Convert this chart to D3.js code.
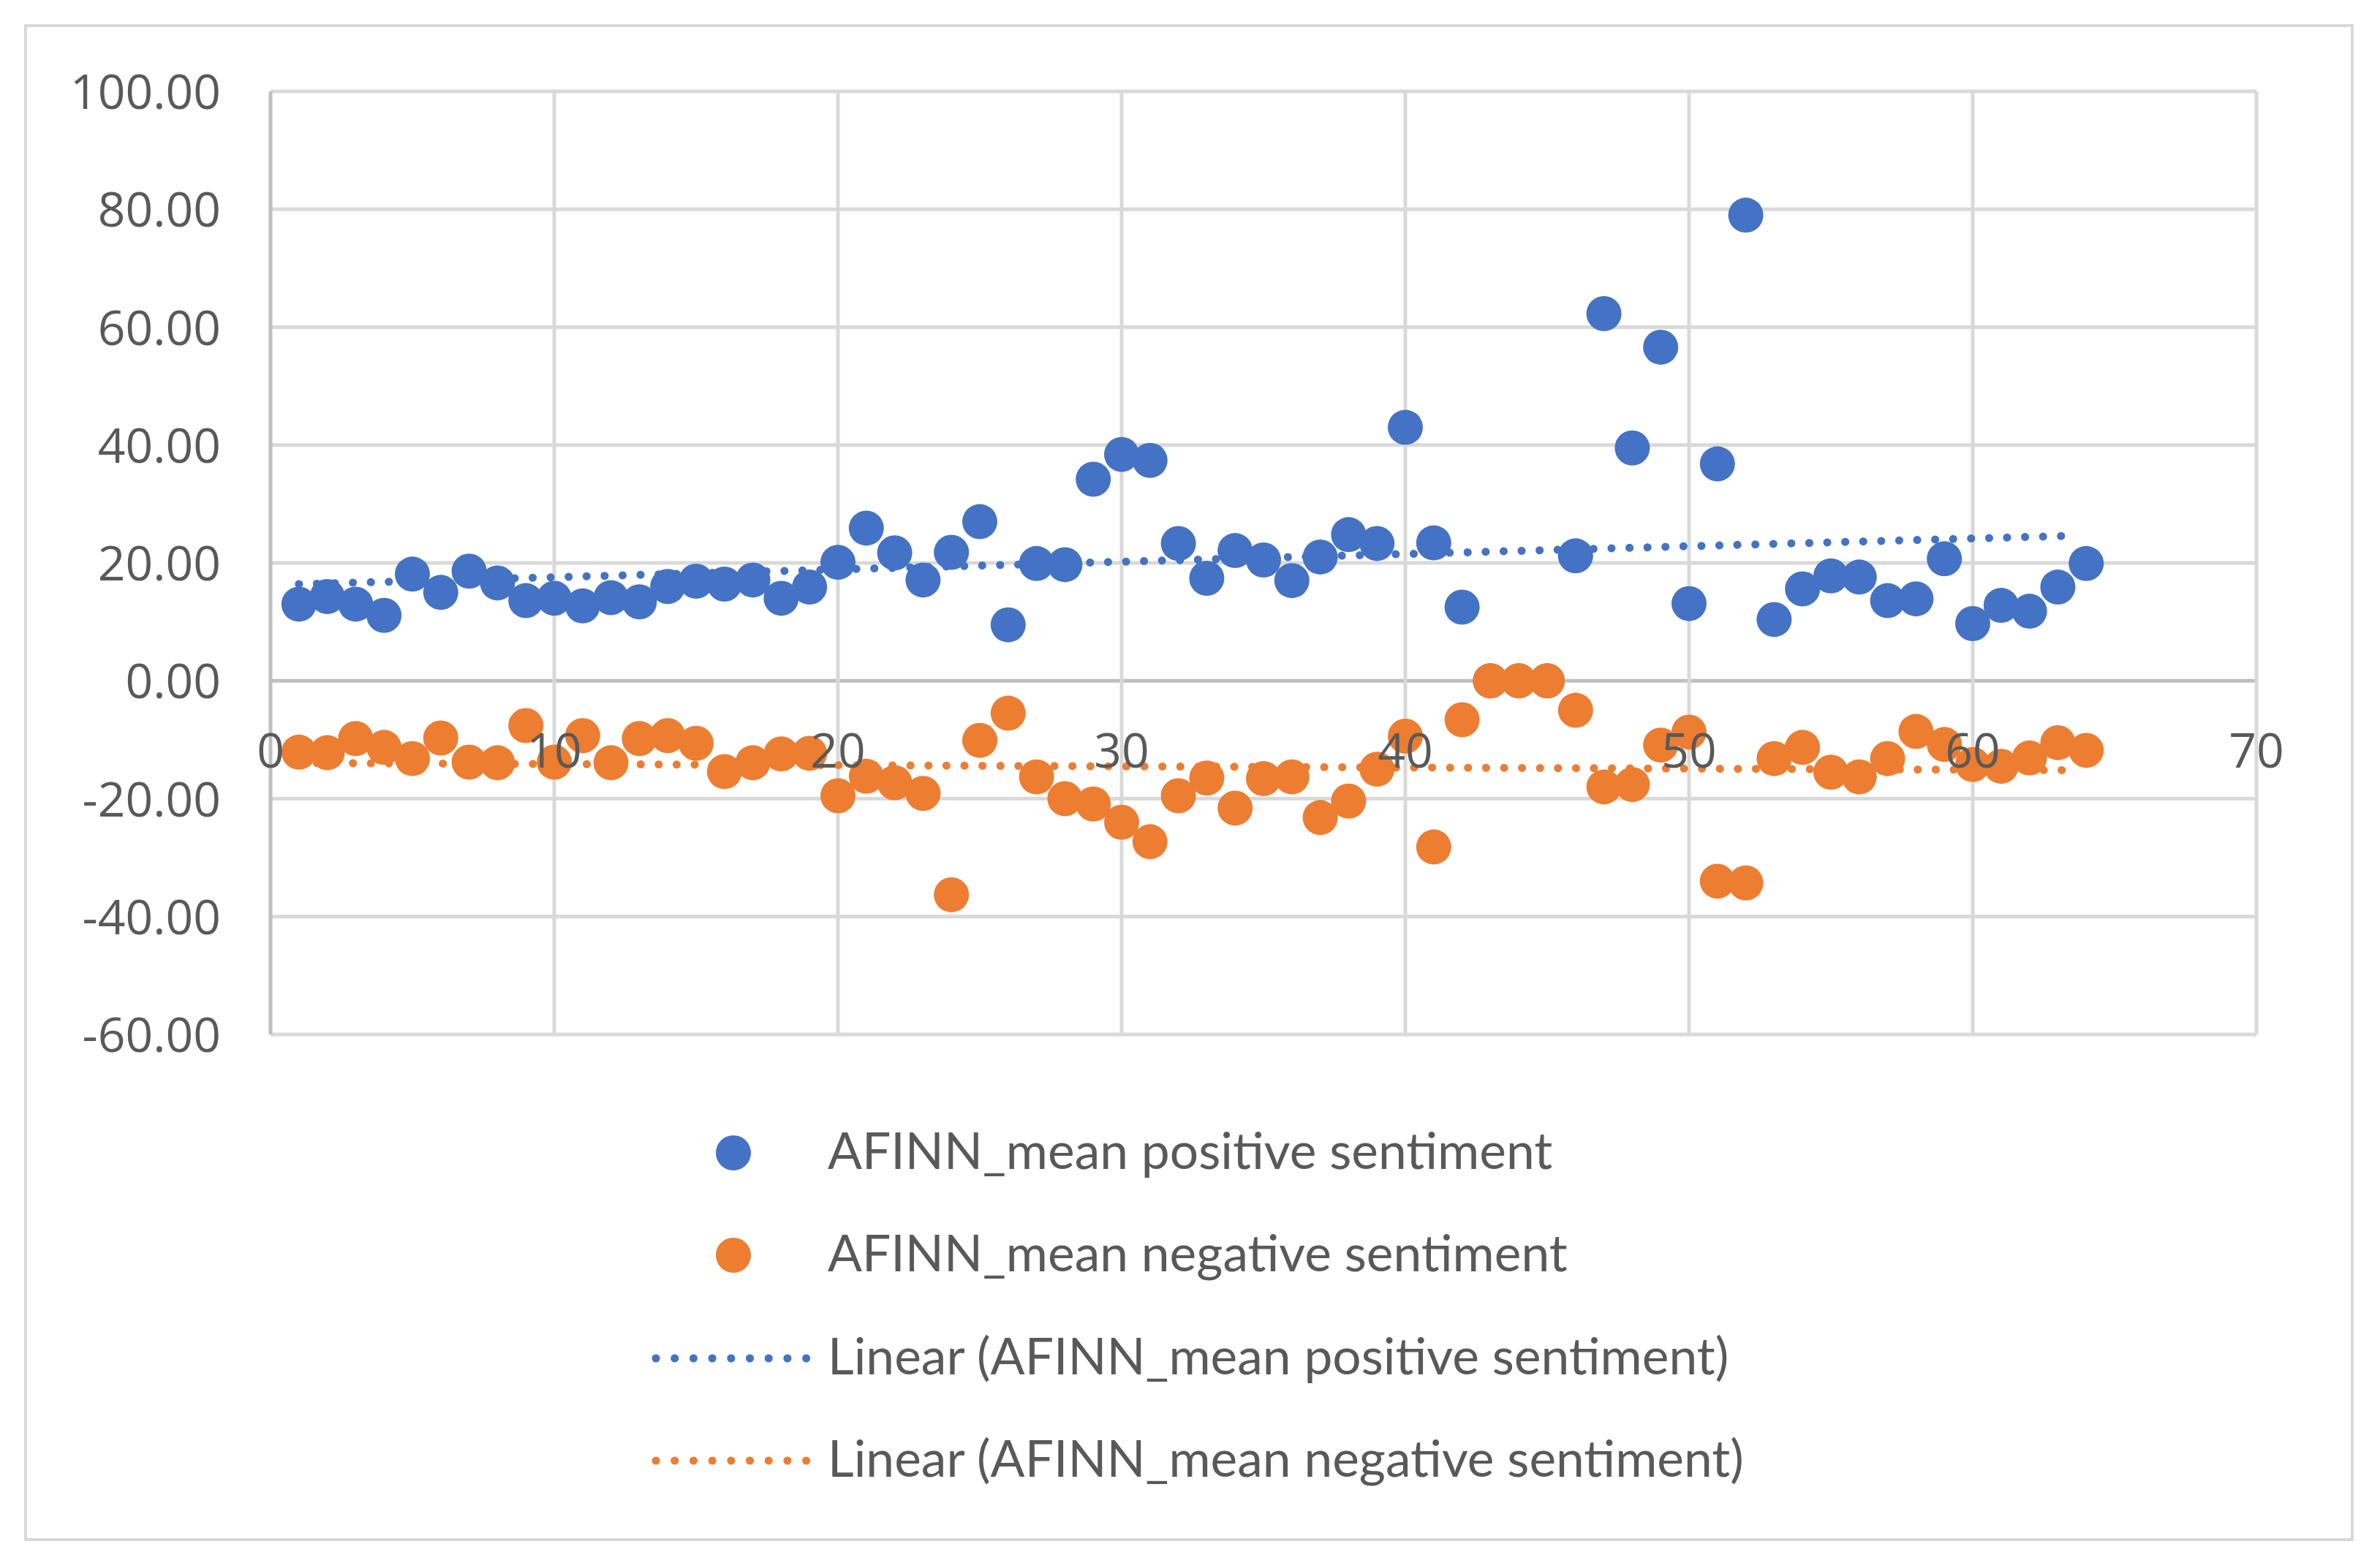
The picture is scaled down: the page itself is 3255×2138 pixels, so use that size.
<!DOCTYPE html>
<html>
<head>
<meta charset="utf-8">
<script src="https://cdn.jsdelivr.net/npm/d3@7"></script>
<style>
  html, body { margin: 0; padding: 0; background: #ffffff; }
  svg { display: block; }
</style>
</head>
<body>
<svg id="chart"></svg>
<script>
// --- DATA ---
const days = [1,2,3,4,5,6,7,8,9,10,11,12,13,14,15,16,17,18,19,20,21,22,23,24,25,26,27,28,29,30,31,32,
              33,34,35,36,37,38,39,40,41,42,43,44,45,46,47,48,49,50,51,52,53,54,55,56,57,58,59,60,61,62,63,64];

const positive = [13.0, 14.3, 13.0, 11.1, 18.1, 15.0, 18.6, 16.6, 13.6, 14.0,
                  12.7, 14.1, 13.4, 16.0, 16.9, 16.4, 17.1, 14.0, 15.9, 20.1,
                  25.9, 21.7, 17.1, 21.8, 27.0, 9.5, 19.9, 19.7, 34.2, 38.4,
                  37.4, 23.3, 17.4, 22.1, 20.5, 17.0, 21.0, 24.8, 23.3, 43.0,
                  23.4, 12.5, 0, 0, 0, 21.2, 62.3, 39.5, 56.6, 13.1,
                  36.8, 79.0, 10.4, 15.6, 17.8, 17.6, 13.6, 13.9, 20.7, 9.7,
                  12.8, 11.8, 15.9, 19.9];

const negative = [-12.1, -12.2, -9.8, -11.3, -13.2, -9.7, -13.8, -13.9, -7.6, -13.8,
                  -9.3, -13.9, -9.8, -9.3, -10.6, -15.4, -13.9, -12.4, -12.3, -19.5,
                  -16.2, -17.3, -19.1, -36.3, -10.1, -5.5, -16.3, -20.0, -20.9, -24.0,
                  -27.3, -19.5, -16.5, -21.6, -16.6, -16.3, -23.2, -20.4, -15.0, -9.4,
                  -28.2, -6.6, 0, 0, 0, -5.0, -18.0, -17.6, -10.9, -8.7,
                  -34.0, -34.3, -13.2, -11.3, -15.5, -16.3, -13.2, -8.6, -10.8, -14.2,
                  -14.5, -13.1, -10.5, -11.8];

const xTicks = [0, 10, 20, 30, 40, 50, 60, 70];
const yTicks = [-60, -40, -20, 0, 20, 40, 60, 80, 100];

const seriesNames = [
    'AFINN_mean positive sentiment',
    'AFINN_mean negative sentiment',
    'Linear (AFINN_mean positive sentiment)',
    'Linear (AFINN_mean negative sentiment)'
];

// --- SETUP ---
const width = 3255;
const height = 2138;
const blue = '#4472C4';
const orange = '#ED7D31';
const textColor = '#595959';

const svg = d3.select('#chart')
    .attr('width', width)
    .attr('height', height);

svg.append('rect')
    .attr('x', 35).attr('y', 35)
    .attr('width', 3182).attr('height', 2071)
    .attr('fill', '#ffffff')
    .attr('stroke', '#d9d9d9')
    .attr('stroke-width', 4);

const x = d3.scaleLinear().domain([0, 70]).range([370, 3086]);
const y = d3.scaleLinear().domain([-60, 100]).range([1415, 125]);

// --- GRID ---
const grid = svg.append('g');
grid.selectAll('line.h')
    .data(yTicks)
    .enter().append('line')
    .attr('x1', x(0)).attr('x2', x(70))
    .attr('y1', d => y(d)).attr('y2', d => y(d))
    .attr('stroke', d => d === 0 ? '#bfbfbf' : '#d9d9d9')
    .attr('stroke-width', 5);

grid.selectAll('line.v')
    .data(xTicks)
    .enter().append('line')
    .attr('y1', y(-60)).attr('y2', y(100))
    .attr('x1', d => x(d)).attr('x2', d => x(d))
    .attr('stroke', d => d === 0 ? '#bfbfbf' : '#d9d9d9')
    .attr('stroke-width', 5);

// --- MARKERS ---
const r = 24;
svg.append('g').selectAll('circle')
    .data(days.map((d, i) => [d, positive[i]]))
    .enter().append('circle')
    .attr('cx', d => x(d[0]))
    .attr('cy', d => y(d[1]))
    .attr('r', r)
    .attr('fill', blue);

svg.append('g').selectAll('circle')
    .data(days.map((d, i) => [d, negative[i]]))
    .enter().append('circle')
    .attr('cx', d => x(d[0]))
    .attr('cy', d => y(d[1]))
    .attr('r', r)
    .attr('fill', orange);

// --- TRENDLINES (least squares) ---
function linearFit(xs, ys) {
    const mx = d3.mean(xs), my = d3.mean(ys);
    let num = 0, den = 0;
    xs.forEach((v, i) => { num += (v - mx) * (ys[i] - my); den += (v - mx) * (v - mx); });
    const slope = num / den;
    return v => my + slope * (v - mx);
}

const dotted = { width: 11, dash: '0.1 24.5' };
[[positive, blue], [negative, orange]].forEach(([vals, color]) => {
    const f = linearFit(days, vals);
    const x0 = d3.min(days), x1 = d3.max(days);
    svg.append('line')
        .attr('x1', x(x0)).attr('y1', y(f(x0)))
        .attr('x2', x(x1) - 12).attr('y2', y(f(x1)))
        .attr('stroke', color)
        .attr('stroke-width', dotted.width)
        .attr('stroke-linecap', 'round')
        .attr('stroke-dasharray', dotted.dash);
});

// --- AXIS LABELS ---
const fmt = d => d3.format('.2f')(d).replace('\u2212', '-');

svg.append('g').selectAll('text')
    .data(yTicks)
    .enter().append('text')
    .attr('x', 302)
    .attr('y', d => y(d) + 24)
    .attr('text-anchor', 'end')
    .attr('font-family', '"Open Sans", sans-serif')
    .attr('font-size', 66)
    .attr('fill', textColor)
    .text(fmt);

svg.append('g').selectAll('text')
    .data(xTicks)
    .enter().append('text')
    .attr('x', d => x(d))
    .attr('y', y(0) + 119)
    .attr('text-anchor', 'middle')
    .attr('font-family', '"Open Sans", sans-serif')
    .attr('font-size', 66)
    .attr('fill', textColor)
    .text(d => d);

// --- LEGEND ---
const legend = svg.append('g');
const legendY = [1577, 1717, 1858, 1998];
const legendColors = [blue, orange, blue, orange];

seriesNames.forEach((name, i) => {
    const g = legend.append('g');
    if (i < 2) {
        g.append('circle')
            .attr('cx', 1003).attr('cy', legendY[i])
            .attr('r', r)
            .attr('fill', legendColors[i]);
    } else {
        g.append('line')
            .attr('x1', 897).attr('x2', 1104)
            .attr('y1', legendY[i]).attr('y2', legendY[i])
            .attr('stroke', legendColors[i])
            .attr('stroke-width', dotted.width)
            .attr('stroke-linecap', 'round')
            .attr('stroke-dasharray', '0.1 25.6');
    }
    g.append('text')
        .attr('x', 1132)
        .attr('y', legendY[i] + 22)
        .attr('font-family', 'Lato, sans-serif')
        .attr('font-size', 69.5)
        .attr('fill', textColor)
        .text(name);
});
</script>
</body>
</html>
